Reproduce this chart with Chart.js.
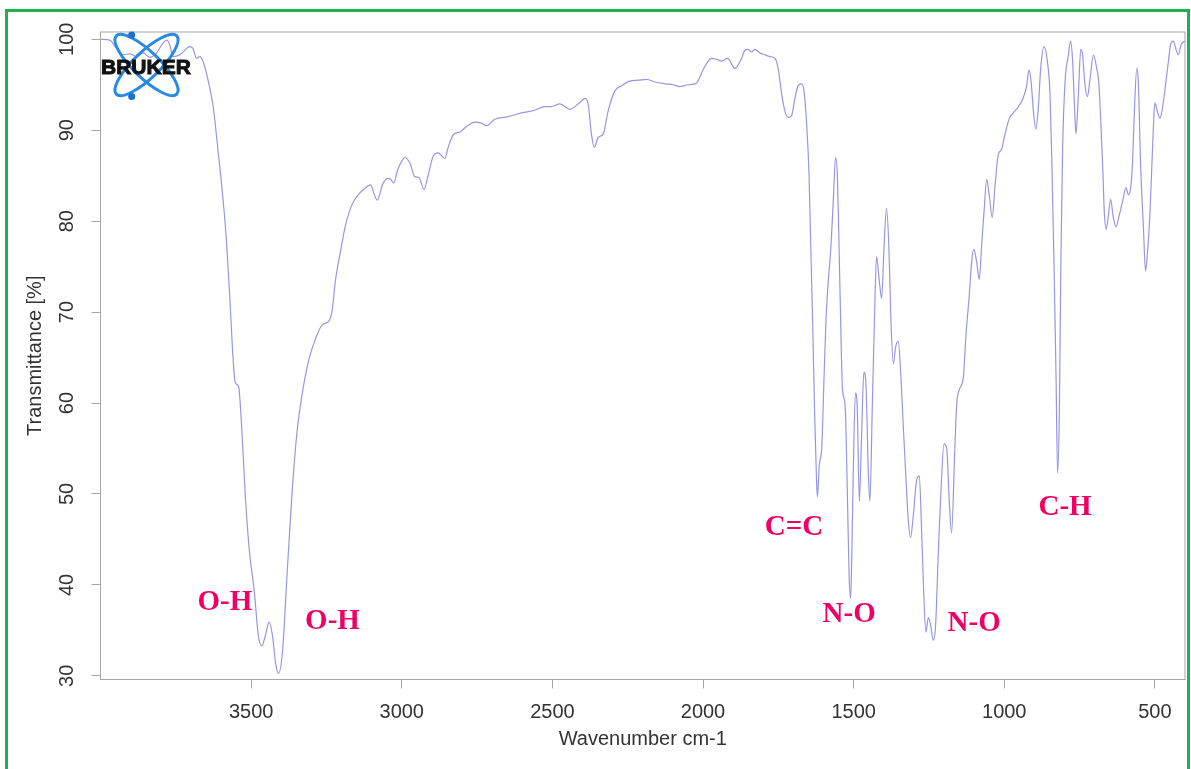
<!DOCTYPE html>
<html>
<head>
<meta charset="utf-8">
<script src="https://cdn.jsdelivr.net/npm/chart.js"></script>
<style>
  html, body { margin: 0; padding: 0; background: #fff; overflow: hidden; }
  #spectrum { display: block; }
</style>
</head>
<body>
<canvas id="spectrum" width="1191" height="769"></canvas>
<script>
const wavenumbers = [
  4000, 3969, 3947, 3925, 3903, 3880, 3859, 3836, 3814, 3792, 3781, 3770, 3759, 3737, 3720, 3704,
  3693, 3681, 3670, 3659, 3643, 3626, 3610, 3593, 3582, 3570, 3562, 3553, 3545, 3540, 3531, 3520,
  3507, 3489, 3476, 3464, 3453, 3440, 3429, 3418, 3409, 3396, 3381, 3364, 3348, 3331, 3309, 3287,
  3264, 3242, 3231, 3220, 3203, 3187, 3164, 3142, 3126, 3103, 3092, 3081, 3064, 3048, 3037, 3026,
  3014, 3000, 2990, 2973, 2957, 2943, 2926, 2912, 2896, 2879, 2857, 2846, 2829, 2807, 2785, 2757,
  2737, 2719, 2691, 2647, 2602, 2558, 2525, 2503, 2475, 2442, 2414, 2390, 2381, 2370, 2361, 2348,
  2331, 2315, 2293, 2270, 2243, 2215, 2187, 2160, 2126, 2099, 2077, 2049, 2021, 1999, 1972, 1955,
  1938, 1918, 1894, 1872, 1861, 1850, 1839, 1828, 1811, 1795, 1778, 1761, 1750, 1739, 1728, 1717,
  1706, 1695, 1684, 1673, 1665, 1656, 1648, 1643, 1636, 1630, 1623, 1620, 1614, 1606, 1599, 1592,
  1584, 1577, 1568, 1560, 1554, 1549, 1543, 1537, 1528, 1521, 1515, 1510, 1506, 1501, 1494, 1488,
  1481, 1474, 1466, 1459, 1451, 1446, 1438, 1431, 1424, 1415, 1407, 1399, 1391, 1383, 1376, 1368,
  1361, 1352, 1343, 1335, 1327, 1319, 1311, 1302, 1291, 1282, 1274, 1267, 1260, 1252, 1244, 1236,
  1228, 1219, 1210, 1200, 1191, 1183, 1175, 1164, 1158, 1149, 1136, 1127, 1116, 1108, 1101, 1092,
  1083, 1075, 1067, 1058, 1050, 1040, 1031, 1020, 1009, 998, 983, 970, 953, 939, 926, 918,
  911, 904, 895, 887, 879, 868, 857, 848, 842, 835, 828, 823, 817, 812, 806, 798,
  787, 780, 773, 767, 762, 754, 746, 740, 732, 724, 715, 704, 693, 686, 680, 673,
  668, 662, 655, 647, 638, 629, 618, 607, 596, 588, 580, 574, 568, 560, 555, 547,
  538, 531, 525, 516, 505, 500, 492, 483, 475, 466, 455, 448, 439, 430, 422, 413, 400
];

// transmittance [%] at each wavenumber above
const transmittance = [
  100.0, 99.9, 99.0, 98.3, 98.4, 98.1, 98.5, 98.0, 98.5, 99.6, 99.9, 99.4, 98.1, 98.3, 98.8, 99.2,
  99.0, 97.9, 98.1, 97.5, 95.5, 92.6, 87.8, 82.3, 77.9, 71.2, 66.0, 62.3, 62.0, 61.5, 57.2, 50.2,
  44.2, 39.1, 34.4, 33.3, 34.4, 35.9, 34.4, 31.2, 30.3, 32.6, 41.0, 50.2, 56.7, 60.9, 64.7, 67.0,
  68.6, 69.0, 70.2, 73.5, 76.7, 79.5, 81.9, 83.0, 83.5, 84.0, 83.0, 82.3, 84.0, 84.7, 84.6, 84.2,
  85.6, 86.6, 87.0, 86.4, 84.9, 84.8, 83.5, 85.1, 87.1, 87.5, 86.9, 88.1, 89.5, 89.8, 90.4, 90.9,
  90.8, 90.5, 91.2, 91.5, 91.9, 92.2, 92.6, 92.6, 92.9, 92.3, 92.9, 93.5, 92.8, 89.5, 88.1, 89.2,
  89.6, 92.1, 94.3, 94.9, 95.4, 95.5, 95.6, 95.3, 95.1, 95.0, 94.8, 95.0, 95.2, 96.7, 97.9, 97.8,
  97.6, 97.9, 96.8, 97.9, 98.8, 98.9, 98.6, 98.9, 98.5, 98.3, 98.1, 97.9, 96.7, 94.0, 92.1, 91.4,
  91.6, 93.5, 94.9, 95.1, 94.4, 90.7, 85.1, 78.2, 68.9, 59.6, 51.3, 49.7, 53.2, 55.0, 62.0, 68.9,
  73.5, 76.3, 81.9, 87.0, 85.1, 78.2, 68.9, 61.5, 59.6, 50.4, 41.1, 38.5, 43.4, 52.7, 61.1, 59.6,
  49.2, 55.9, 63.4, 62.0, 52.2, 49.2, 59.6, 68.9, 76.1, 73.5, 71.5, 77.2, 81.4, 77.2, 68.9, 64.3,
  66.1, 66.8, 62.9, 57.3, 52.2, 47.3, 45.2, 47.6, 51.5, 52.0, 45.7, 38.8, 34.8, 36.4, 35.5, 33.9,
  35.5, 43.4, 50.4, 55.5, 55.0, 49.5, 45.7, 55.0, 59.8, 61.5, 62.8, 67.5, 71.9, 75.6, 76.9, 75.6,
  73.6, 77.4, 81.1, 84.6, 82.9, 80.4, 83.7, 87.3, 87.9, 89.5, 91.3, 91.9, 92.6, 93.4, 94.8, 96.6,
  95.4, 92.4, 90.1, 92.4, 96.8, 99.2, 97.6, 93.9, 86.6, 75.6, 62.8, 52.3, 59.1, 75.6, 88.4, 95.4,
  98.3, 99.8, 97.6, 92.8, 89.6, 93.9, 98.9, 98.3, 95.0, 93.7, 95.7, 98.3, 96.8, 95.2, 91.3, 85.9,
  81.1, 79.1, 80.4, 82.4, 80.4, 79.4, 80.7, 82.2, 83.7, 82.9, 83.7, 86.6, 92.1, 96.8, 95.4, 85.9,
  79.3, 74.5, 76.3, 81.1, 90.3, 93.0, 92.1, 91.3, 92.4, 94.6, 97.6, 99.4, 99.8, 98.9, 98.3, 99.4, 99.8
];

const xTicks = [500, 1000, 1500, 2000, 2500, 3000, 3500];
const yTicks = [30, 40, 50, 60, 70, 80, 90, 100];

// band assignments written on the plot: text, wavenumber, transmittance (baseline)
const bandLabels = ['O-H', 'O-H', 'C=C', 'N-O', 'N-O', 'C-H'];
const bandWavenumbers = [3587, 3230, 1698, 1515, 1100, 798];
const bandLevels = [37.2, 35.1, 45.5, 35.9, 34.9, 47.7];

const axisFont = { family: "'Liberation Sans', Arial, sans-serif", size: 20 };
const axisGrey = '#a6a6a6';
const textGrey = '#333333';

const extras = {
  id: 'extras',
  afterDraw(chart) {
    const ctx = chart.ctx;
    const a = chart.chartArea;
    const xs = chart.scales.x, ys = chart.scales.y;
    ctx.save();

    // box round the plot region
    ctx.strokeStyle = axisGrey;
    ctx.lineWidth = 1;
    ctx.strokeRect(a.left, a.top, a.right - a.left, a.bottom - a.top);

    // band labels
    ctx.fillStyle = 'rgb(240, 0, 100)';
    ctx.font = "bold 29px 'Liberation Serif', 'Times New Roman', serif";
    ctx.textAlign = 'center';
    ctx.textBaseline = 'alphabetic';
    bandLabels.forEach((t, i) => {
      ctx.fillText(t, xs.getPixelForValue(bandWavenumbers[i]), ys.getPixelForValue(bandLevels[i]));
    });

    // logo
    ctx.strokeStyle = '#2a8ae2';
    ctx.lineWidth = 3;
    ctx.beginPath();
    ctx.ellipse(146.5, 65, 42, 13, Math.PI / 4.1, 0, Math.PI * 2);
    ctx.stroke();
    ctx.beginPath();
    ctx.ellipse(146.5, 65, 42, 13, -Math.PI / 4.1, 0, Math.PI * 2);
    ctx.stroke();
    ctx.fillStyle = '#1c6fcf';
    [[131.7, 35], [131.7, 96.5]].forEach(p => {
      ctx.beginPath();
      ctx.arc(p[0], p[1], 3.5, 0, Math.PI * 2);
      ctx.fill();
    });
    ctx.fillStyle = '#111';
    ctx.strokeStyle = '#111';
    ctx.lineWidth = 1;
    ctx.font = "bold 21px 'Liberation Sans', Arial, sans-serif";
    ctx.textAlign = 'left';
    ctx.fillText('BRUKER', 101, 74);
    ctx.strokeText('BRUKER', 101, 74);

    // green frame
    ctx.strokeStyle = '#1fb14f';
    ctx.lineWidth = 3;
    ctx.strokeRect(6.5, 10.5, 1182, 775);
    ctx.restore();
  }
};

new Chart(document.getElementById('spectrum'), {
  type: 'line',
  data: {
    datasets: [{
      data: wavenumbers.map((w, i) => ({ x: w, y: transmittance[i] })),
      borderColor: 'rgb(150, 150, 228)',
      borderWidth: 1.2,
      pointRadius: 0,
      fill: false,
      cubicInterpolationMode: 'monotone'
    }]
  },
  options: {
    responsive: false,
    animation: false,
    devicePixelRatio: 1,
    layout: { padding: { left: 0, top: 32, right: 6, bottom: 0 } },
    plugins: { legend: { display: false }, tooltip: { enabled: false } },
    scales: {
      x: {
        type: 'linear',
        reverse: true,
        min: 400,
        max: 4000,
        afterBuildTicks: s => { s.ticks = xTicks.map(v => ({ value: v })); },
        afterFit: s => { s.height = 89.5; },
        grid: { drawOnChartArea: false, drawTicks: true, tickLength: 9, tickColor: axisGrey },
        border: { display: true, color: axisGrey },
        ticks: { color: textGrey, font: axisFont, padding: 12, maxRotation: 0, autoSkip: false, callback: v => String(v) },
        title: { display: true, text: 'Wavenumber cm-1', color: textGrey, font: axisFont, padding: { top: 0, bottom: 18 } }
      },
      y: {
        min: 29.6,
        max: 100.8,
        afterBuildTicks: s => { s.ticks = yTicks.map(v => ({ value: v })); },
        afterFit: s => { s.width = 100.5; },
        grid: { drawOnChartArea: false, drawTicks: true, tickLength: 9, tickColor: axisGrey },
        border: { display: true, color: axisGrey },
        ticks: { color: textGrey, font: axisFont, padding: 7, minRotation: 90, maxRotation: 90, crossAlign: 'center', autoSkip: false, callback: v => String(v) },
        title: { display: true, text: 'Transmittance [%]', color: textGrey, font: axisFont, padding: { top: 23, bottom: 0 } }
      }
    }
  },
  plugins: [extras]
});
</script>
</body>
</html>
